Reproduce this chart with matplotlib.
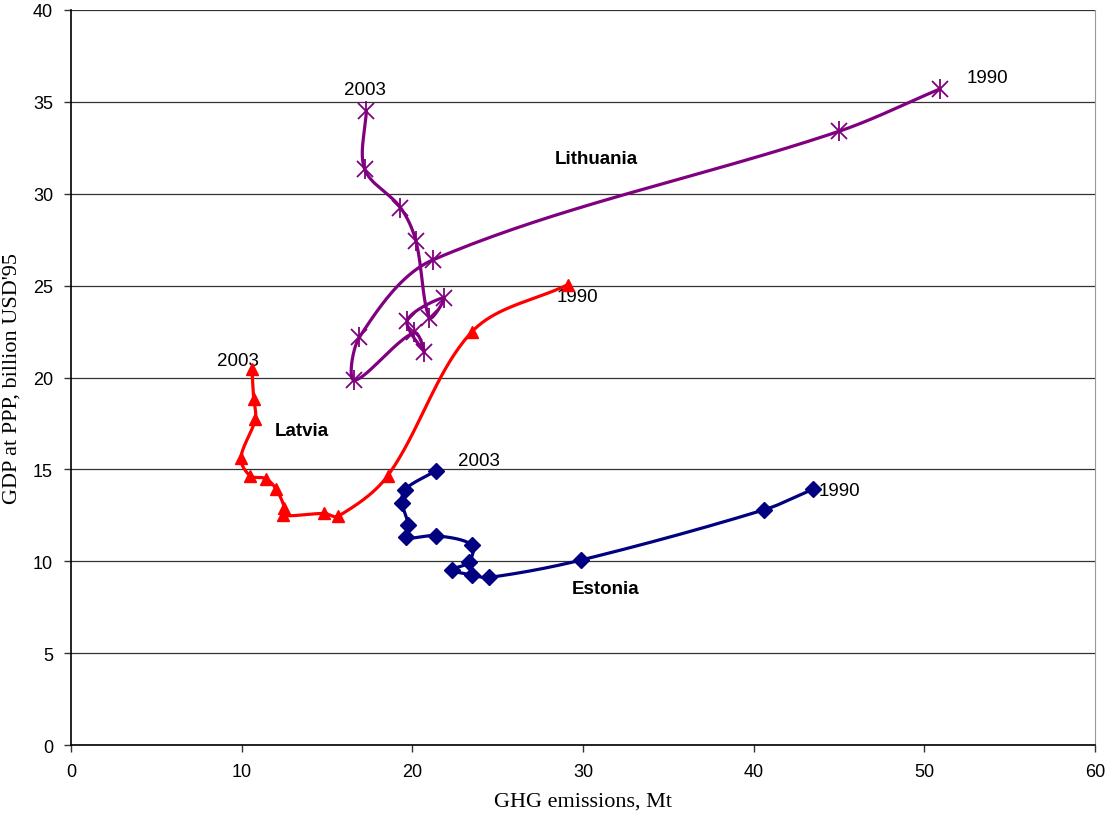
import numpy as np
from matplotlib import pyplot as plt

# years 1990 ... 2003
years = list(range(1990, 2004))

# GHG emissions (Mt) and GDP at PPP (billion USD'95)
lith_ghg = [50.9, 45.0, 21.2, 16.9, 16.6, 20.1, 20.7, 19.7, 21.85, 21.0, 20.2, 19.3, 17.2, 17.3]
lith_gdp = [35.7, 33.4, 26.4, 22.2, 19.85, 22.45, 21.4, 23.1, 24.35, 23.25, 27.45, 29.25, 31.35, 34.5]

latv_ghg = [29.1, 23.5, 18.55, 15.65, 14.85, 12.4, 12.5, 12.0, 11.4, 10.5, 9.95, 10.8, 10.7, 10.6]
latv_gdp = [25.05, 22.5, 14.65, 12.45, 12.6, 12.5, 12.9, 13.95, 14.5, 14.65, 15.6, 17.75, 18.85, 20.45]

est_ghg = [43.5, 40.6, 29.9, 24.5, 23.5, 22.3, 23.3, 23.5, 21.4, 19.6, 19.75, 19.4, 19.55, 21.4]
est_gdp = [13.93, 12.8, 10.07, 9.12, 9.25, 9.54, 9.94, 10.88, 11.39, 11.3, 11.99, 13.17, 13.9, 14.93]


def smooth(x, y, n=40):
    # Excel style smoothed line: bezier, tangent scaled by segment lengths
    p = np.column_stack([x, y]).astype(float)
    k = len(p)
    t = np.linspace(0, 1, n)[:, None]
    seg = np.hypot(*(np.diff(p, axis=0)).T)
    out = []
    for i in range(k - 1):
        p1, p2 = p[i], p[i + 1]
        if i > 0:
            tan1 = p2 - p[i - 1]
            c1 = p1 + tan1 * seg[i] / (seg[i - 1] + seg[i]) / 3
        else:
            c1 = p1 + (p2 - p1) / 3
        if i + 2 < k:
            tan2 = p[i + 2] - p1
            c2 = p2 - tan2 * seg[i] / (seg[i] + seg[i + 1]) / 3
        else:
            c2 = p2 - (p2 - p1) / 3
        b = ((1 - t) ** 3) * p1 + 3 * ((1 - t) ** 2) * t * c1 + 3 * (1 - t) * t ** 2 * c2 + t ** 3 * p2
        out.append(b)
    out = np.vstack(out)
    return out[:, 0], out[:, 1]


fig = plt.figure(figsize=(11.05, 8.2), dpi=100)
ax = fig.add_axes([0.0643, 0.0902, 0.9267, 0.8964])

# Estonia
sx, sy = smooth(est_ghg, est_gdp)
ax.plot(sx, sy, color="#000080", lw=2.3, zorder=3)
ax.plot(est_ghg, est_gdp, ls="none", marker="D", ms=8, color="#000080", zorder=4)

# Latvia
sx, sy = smooth(latv_ghg, latv_gdp)
ax.plot(sx, sy, color="#FF0000", lw=2.3, zorder=3)
ax.plot(latv_ghg, latv_gdp, ls="none", marker="^", ms=9, color="#FF0000", zorder=4)

# Lithuania
sx, sy = smooth(lith_ghg, lith_gdp)
ax.plot(sx, sy, color="#800080", lw=2.3, zorder=3)
ax.plot(lith_ghg, lith_gdp, ls="none", marker="x", ms=11, mew=1.3, color="#800080", zorder=4)
ax.plot(lith_ghg, lith_gdp, ls="none", marker="|", ms=14, mew=1.3, color="#800080", zorder=4)

# 年份标注
lab = dict(fontsize=13.5, family="Liberation Sans", ha="center", va="center")
ax.text(17.2, 35.65, "2003", **lab)
ax.text(53.7, 36.3, "1990", **lab)
ax.text(9.76, 20.95, "2003", **lab)
ax.text(29.65, 24.4, "1990", **lab)
ax.text(23.9, 15.5, "2003", **lab)
ax.text(45.0, 13.87, "1990", **lab)

name = dict(fontsize=13.5, family="Liberation Sans", weight="bold", ha="center", va="center")
ax.text(30.8, 31.9, "Lithuania", **name)
ax.text(13.5, 17.14, "Latvia", **name)
ax.text(31.3, 8.54, "Estonia", **name)

ax.set_xlim(0, 60)
ax.set_ylim(0, 40)
ax.set_xticks(range(0, 61, 10))
ax.set_yticks(range(0, 41, 5))
ax.yaxis.grid(True, color="#333333", lw=0.9)
ax.set_axisbelow(True)

for lbl in ax.get_xticklabels() + ax.get_yticklabels():
    lbl.set_family("Liberation Sans")
    lbl.set_fontsize(13)
ax.tick_params(direction="out", length=5, width=1, color="#333333", pad=8)

ax.spines["top"].set_visible(False)
ax.spines["right"].set_color("#999999")
ax.spines["left"].set_linewidth(1.2)
ax.spines["bottom"].set_linewidth(1.2)

ax.set_xlabel("GHG emissions, Mt", family="Liberation Serif", fontsize=16, labelpad=8)
ax.set_ylabel("GDP at PPP, billion USD'95", family="Liberation Serif", fontsize=16, labelpad=8)

plt.savefig("out.png", dpi=100)
